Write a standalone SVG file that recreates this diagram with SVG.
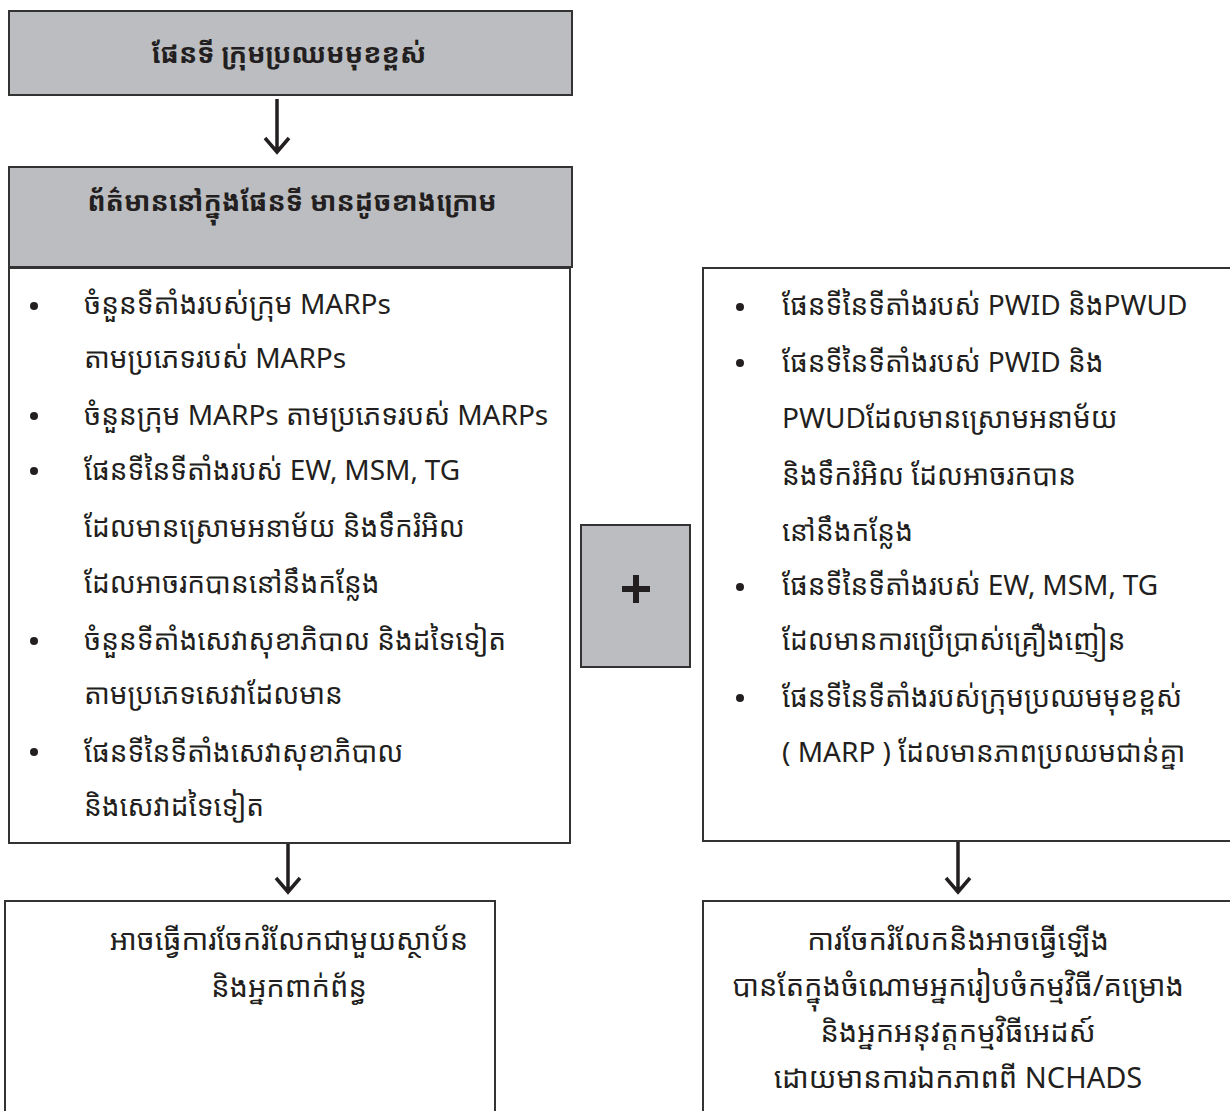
<svg xmlns="http://www.w3.org/2000/svg" width="1230" height="1111" viewBox="0 0 1230 1111">
<style>
.box{stroke:#333;stroke-width:2;}
.gray{fill:#bcbdc0;}
.white{fill:#fff;}
text{font-family:"Noto Sans Khmer","Khmer OS","Liberation Sans",sans-serif;fill:#231f20;}
.title{font-size:27px;font-weight:bold;text-anchor:middle;}
.item{font-size:28px;}
.mid{font-size:29px;text-anchor:middle;}
.arrow{stroke:#231f20;stroke-width:3.5;fill:none;}
.bullet{fill:#231f20;}
</style>
<rect width="1230" height="1111" fill="#fff"/>
<g id="connectors">
  <path class="arrow" d="M277 99 V152 M265 138 L277 152 L289 138"/>
  <path class="arrow" d="M288 843 V892 M276 878 L288 892 L300 878"/>
  <path class="arrow" d="M958 842 V892 M946 878 L958 892 L970 878"/>
</g>
<g id="node-top">
  <rect class="box gray" x="9" y="11" width="563" height="84"/>
  <text class="title" x="289" y="63">ផែនទី ក្រុមប្រឈមមុខខ្ពស់</text>
</g>
<g id="node-info-header">
  <rect class="box gray" x="9" y="167" width="563" height="100"/>
  <text class="title" x="292" y="211">ព័ត៌មាននៅក្នុងផែនទី មានដូចខាងក្រោម</text>
</g>
<g id="node-left-list">
  <rect class="box white" x="9" y="268" width="561" height="575"/>
  <circle class="bullet" cx="34" cy="306" r="4"/>
  <circle class="bullet" cx="34" cy="416" r="4"/>
  <circle class="bullet" cx="34" cy="471" r="4"/>
  <circle class="bullet" cx="34" cy="641" r="4"/>
  <circle class="bullet" cx="34" cy="752" r="4"/>
  <text class="item" x="84" y="314">ចំនួនទីតាំងរបស់ក្រុម MARPs</text>
  <text class="item" x="84" y="368">តាមប្រភេទរបស់ MARPs</text>
  <text class="item" x="84" y="425">ចំនួនក្រុម MARPs តាមប្រភេទរបស់ MARPs</text>
  <text class="item" x="84" y="480">ផែនទីនៃទីតាំងរបស់ EW, MSM, TG</text>
  <text class="item" x="84" y="537">ដែលមានស្រោមអនាម័យ និងទឹករំអិល</text>
  <text class="item" x="84" y="593">ដែលអាចរកបាននៅនឹងកន្លែង</text>
  <text class="item" x="84" y="650">ចំនួនទីតាំងសេវាសុខាភិបាល និងដទៃទៀត</text>
  <text class="item" x="84" y="704">តាមប្រភេទសេវាដែលមាន</text>
  <text class="item" x="84" y="762">ផែនទីនៃទីតាំងសេវាសុខាភិបាល</text>
  <text class="item" x="84" y="816">និងសេវាដទៃទៀត</text>
</g>
<g id="node-plus">
  <rect class="box gray" x="581" y="525" width="109" height="142"/>
  <path d="M622 589 H650 M636 575 V603" stroke="#231f20" stroke-width="6" fill="none"/>
</g>
<g id="node-right-list">
  <rect class="box white" x="703" y="268" width="530" height="573"/>
  <circle class="bullet" cx="740" cy="307" r="4"/>
  <circle class="bullet" cx="740" cy="363" r="4"/>
  <circle class="bullet" cx="740" cy="587" r="4"/>
  <circle class="bullet" cx="740" cy="698" r="4"/>
  <text class="item" x="782" y="315">ផែនទីនៃទីតាំងរបស់ PWID និងPWUD</text>
  <text class="item" x="782" y="372">ផែនទីនៃទីតាំងរបស់ PWID និង</text>
  <text class="item" x="782" y="428">PWUDដែលមានស្រោមអនាម័យ</text>
  <text class="item" x="782" y="485">និងទឹករំអិល ដែលអាចរកបាន</text>
  <text class="item" x="782" y="541">នៅនឹងកន្លែង</text>
  <text class="item" x="782" y="595">ផែនទីនៃទីតាំងរបស់ EW, MSM, TG</text>
  <text class="item" x="782" y="650">ដែលមានការប្រើប្រាស់គ្រឿងញៀន</text>
  <text class="item" x="782" y="707">ផែនទីនៃទីតាំងរបស់ក្រុមប្រឈមមុខខ្ពស់</text>
  <text class="item" x="782" y="762">( MARP ) ដែលមានភាពប្រឈមជាន់គ្នា</text>
</g>
<g id="node-bottom-left">
  <rect class="box white" x="5" y="901" width="490" height="215"/>
  <text class="mid" x="289" y="950">អាចធ្វើការចែករំលែកជាមួយស្ថាប័ន</text>
  <text class="mid" x="289" y="997">និងអ្នកពាក់ព័ន្ធ</text>
</g>
<g id="node-bottom-right">
  <rect class="box white" x="703" y="901" width="530" height="215"/>
  <text class="mid" x="958" y="950">ការចែករំលែកនិងអាចធ្វើឡើង</text>
  <text class="mid" x="958" y="996">បានតែក្នុងចំណោមអ្នករៀបចំកម្មវិធី/គម្រោង</text>
  <text class="mid" x="958" y="1042">និងអ្នកអនុវត្តកម្មវិធីអេដស៍</text>
  <text class="mid" x="958" y="1088">ដោយមានការឯកភាពពី NCHADS</text>
</g>
</svg>
